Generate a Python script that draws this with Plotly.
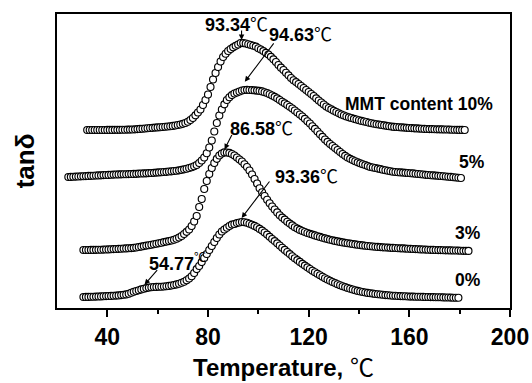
import plotly.graph_objects as go

# Temperature sampling step (degC) and start temperature of each scan
T_STEP = 1.0
T0_10, T0_5, T0_3, T0_0 = 32.0, 24.5, 30.5, 30.5

# tan(delta) traces, vertically offset, arbitrary units
tan_10 = [
    178.0, 178.0, 178.0, 178.0, 178.0, 178.0, 178.0, 178.0, 178.1, 178.1,
    178.1, 178.2, 178.2, 178.2, 178.3, 178.3, 178.4, 178.4, 178.5, 178.7,
    178.9, 179.1, 179.3, 179.5, 179.8, 180.0, 180.2, 180.4, 180.6, 180.8,
    181.0, 181.3, 181.5, 181.8, 182.1, 182.5, 183.0, 183.5, 184.2, 185.0,
    186.3, 188.0, 190.0, 192.7, 195.5, 198.5, 203.0, 208.0, 213.5, 221.0,
    228.5, 235.0, 241.0, 246.5, 251.0, 254.3, 257.0, 259.0, 260.7, 262.2,
    263.5, 265.0, 264.9, 264.5, 263.8, 263.0, 262.3, 261.4, 259.8, 258.5,
    256.9, 255.2, 253.5, 251.2, 248.7, 246.0, 243.0, 240.3, 238.0, 235.3,
    232.7, 230.0, 227.8, 225.9, 224.0, 222.0, 220.0, 218.0, 216.0, 214.0,
    212.0, 209.7, 207.5, 205.5, 203.5, 201.5, 200.0, 198.7, 197.3, 196.0,
    194.7, 193.5, 192.5, 191.5, 190.7, 190.0, 189.2, 188.5, 187.8, 187.1,
    186.5, 186.0, 185.3, 184.8, 184.3, 183.8, 183.4, 183.0, 182.6, 182.2,
    181.8, 181.4, 181.1, 181.0, 180.8, 180.6, 180.4, 180.2, 180.0, 179.9,
    179.7, 179.6, 179.4, 179.3, 179.1, 179.0, 178.9, 178.9, 178.8, 178.7,
    178.7, 178.6, 178.5, 178.5, 178.4, 178.3, 178.3, 178.2, 178.1, 178.1,
    178.0,
]
tan_5 = [
    131.0, 131.1, 131.3, 131.4, 131.5, 131.7, 131.8, 131.9, 132.1, 132.2,
    132.3, 132.5, 132.6, 132.7, 132.9, 133.0, 133.1, 133.3, 133.4, 133.5,
    133.6, 133.7, 133.8, 133.8, 133.9, 134.0, 134.1, 134.2, 134.4, 134.5,
    134.6, 134.7, 134.9, 135.0, 135.2, 135.4, 135.6, 135.8, 136.0, 136.2,
    136.5, 136.7, 137.0, 137.3, 137.7, 138.2, 138.7, 139.3, 140.0, 140.8,
    141.8, 143.0, 145.0, 147.5, 150.5, 154.8, 160.5, 167.5, 176.5, 185.0,
    192.5, 198.5, 203.7, 208.0, 210.8, 212.9, 214.5, 215.5, 216.5, 217.5,
    218.0, 218.2, 218.0, 217.9, 217.7, 217.4, 217.1, 216.6, 215.8, 214.9,
    213.8, 212.5, 211.2, 209.7, 208.0, 206.3, 204.7, 203.0, 201.3, 199.5,
    197.5, 195.5, 193.5, 191.5, 189.2, 186.8, 184.5, 181.8, 179.2, 176.5,
    173.8, 171.2, 168.5, 166.2, 164.0, 162.0, 160.0, 158.0, 156.0, 154.0,
    152.2, 150.5, 149.2, 147.9, 146.8, 145.7, 144.7, 143.8, 142.9, 141.9,
    141.0, 140.5, 140.0, 139.4, 138.9, 138.3, 137.8, 137.3, 136.8, 136.3,
    136.0, 135.8, 135.6, 135.4, 135.2, 135.0, 134.8, 134.6, 134.3, 134.0,
    133.8, 133.5, 133.2, 133.0, 132.8, 132.6, 132.4, 132.2, 132.0, 131.8,
    131.5, 131.3, 131.1, 130.8, 130.5, 130.3, 130.0,
]
tan_3 = [
    58.0, 58.0, 58.0, 58.1, 58.1, 58.2, 58.3, 58.3, 58.4, 58.5,
    58.6, 58.8, 58.9, 59.0, 59.2, 59.3, 59.5, 59.6, 59.8, 59.9,
    60.2, 60.5, 61.0, 61.4, 61.9, 62.4, 62.8, 63.3, 63.8, 64.3,
    64.8, 65.3, 65.9, 66.4, 66.9, 67.5, 68.3, 69.3, 70.5, 72.0,
    74.0, 76.2, 78.5, 82.0, 86.5, 92.0, 101.0, 109.0, 119.0, 127.0,
    134.0, 140.0, 145.0, 149.2, 152.5, 154.5, 155.6, 155.5, 155.1, 154.0,
    152.5, 150.5, 148.5, 146.5, 143.8, 141.0, 137.5, 133.5, 129.0, 124.5,
    119.8, 115.8, 112.0, 108.3, 104.8, 101.5, 98.5, 95.6, 92.8, 90.4,
    88.4, 86.3, 84.4, 82.6, 80.8, 79.4, 78.1, 77.0, 76.0, 75.0,
    74.2, 73.4, 72.6, 71.8, 71.1, 70.3, 69.6, 68.9, 68.3, 67.7,
    67.1, 66.6, 66.1, 65.6, 65.2, 64.8, 64.4, 64.0, 63.6, 63.3,
    62.9, 62.6, 62.3, 62.0, 61.8, 61.5, 61.3, 61.1, 60.9, 60.7,
    60.5, 60.4, 60.2, 60.1, 60.0, 59.8, 59.7, 59.6, 59.4, 59.3,
    59.2, 59.0, 58.9, 58.8, 58.6, 58.5, 58.4, 58.3, 58.2, 58.1,
    58.0, 57.9, 57.9, 57.8, 57.7, 57.7, 57.6, 57.5, 57.5, 57.4,
    57.3, 57.2, 57.2, 57.1,
]
tan_0 = [
    11.0, 11.1, 11.1, 11.2, 11.3, 11.4, 11.5, 11.6, 11.7, 11.9,
    12.0, 12.1, 12.3, 12.4, 12.6, 12.9, 13.2, 13.6, 14.2, 15.2,
    16.2, 17.0, 17.8, 18.6, 19.3, 19.9, 20.4, 20.8, 21.0, 21.1,
    21.2, 21.3, 21.5, 21.8, 22.1, 22.5, 23.0, 23.6, 24.3, 25.2,
    26.3, 27.8, 29.5, 31.8, 35.0, 38.9, 42.0, 45.9, 50.0, 54.0,
    58.0, 62.0, 66.0, 70.0, 73.5, 76.5, 78.5, 80.3, 82.0, 83.4,
    84.0, 84.9, 85.5, 86.0, 85.8, 85.3, 84.3, 83.3, 82.1, 80.8,
    79.1, 77.4, 75.5, 73.4, 71.2, 69.0, 66.9, 64.7, 62.5, 60.3,
    58.1, 56.0, 53.9, 51.8, 49.8, 47.9, 46.1, 44.2, 42.4, 40.7,
    39.0, 37.3, 35.7, 34.2, 32.7, 31.3, 29.8, 28.5, 27.2, 26.0,
    24.9, 23.8, 22.8, 21.8, 20.9, 20.0, 19.2, 18.5, 17.8, 17.1,
    16.5, 16.0, 15.5, 15.1, 14.7, 14.4, 14.0, 13.7, 13.5, 13.2,
    12.9, 12.7, 12.5, 12.3, 12.2, 12.0, 11.9, 11.8, 11.7, 11.5,
    11.4, 11.4, 11.3, 11.2, 11.2, 11.1, 11.0, 11.0, 10.9, 10.9,
    10.8, 10.7, 10.7, 10.6, 10.5, 10.5, 10.4, 10.3, 10.3, 10.2,
]

# Peak / transition temperatures quoted on the chart
peak_10, peak_5, peak_3, peak_0 = 93.34, 94.63, 86.58, 93.36
shoulder_0 = 54.77

# Curve labels
content_labels = ["MMT content 10%", "5%", "3%", "0%"]
x_ticks = [40, 80, 120, 160, 200]


def temps(start, vals):
    return [start + T_STEP * i for i in range(len(vals))]


def value_at(start, vals, t):
    i = int(round((t - start) / T_STEP))
    i = max(0, min(len(vals) - 1, i))
    return vals[i]


FONT = "Liberation Sans"
DEG = '<span style="font-family:Noto Sans CJK SC;font-weight:400">℃</span>'
DEG_SMALL = '<span style="font-family:Noto Sans CJK SC;font-weight:400;font-size:12px">℃</span>'

fig = go.Figure()
for start, vals in [(T0_10, tan_10), (T0_5, tan_5), (T0_3, tan_3), (T0_0, tan_0)]:
    fig.add_trace(go.Scatter(
        x=temps(start, vals), y=vals, mode="markers",
        marker=dict(symbol="circle", size=7, color="white",
                    line=dict(color="black", width=1.15)),
        showlegend=False, hoverinfo="skip",
    ))

annotations = []

# Arrows pointing at the peaks (head at quoted temperature)
arrow_specs = [
    (peak_10, max(tan_10) + 3, 0, -11),
    (peak_5, max(tan_5) + 8, 30, -40),
    (peak_3, max(tan_3) + 3, 8, -16),
    (peak_0, max(tan_0) + 4, 29, -38),
    (shoulder_0, value_at(T0_0, tan_0, shoulder_0) + 4, 14, -16),
]
for hx, hy, ax, ay in arrow_specs:
    annotations.append(dict(
        x=hx, y=hy, xref="x", yref="y", ax=ax, ay=ay, text="",
        showarrow=True, arrowhead=2, arrowsize=1, arrowwidth=1.1,
        arrowcolor="black", standoff=0, startstandoff=0,
    ))

# Temperature labels
label_specs = [
    (peak_10, 78.0, 285, DEG),
    (peak_5, 103.5, 275, DEG),
    (peak_3, 88.0, 181, DEG),
    (peak_0, 105.9, 133, DEG),
    (shoulder_0, 55.8, 47, "<sup>" + DEG_SMALL + "</sup>"),
]
for val, lx, ly, unit in label_specs:
    annotations.append(dict(
        x=lx, y=ly, xref="x", yref="y", xanchor="left", yanchor="middle",
        text=f"<b>{val:.2f}</b>{unit}", showarrow=False,
        font=dict(family=FONT, size=18, color="black"),
    ))

# Content labels
for text, lx, ly in zip(content_labels, [133.7, 179.0, 177.5, 177.5], [204, 146, 75, 28]):
    annotations.append(dict(
        x=lx, y=ly, xref="x", yref="y", xanchor="left", yanchor="middle",
        text=f"<b>{text}</b>", showarrow=False,
        font=dict(family=FONT, size=17.5, color="black"),
    ))

# Axis titles
annotations.append(dict(
    x=0.5, y=-0.197, xref="paper", yref="paper", xanchor="center", yanchor="middle",
    text="<b>Temperature,</b> " + DEG, showarrow=False,
    font=dict(family=FONT, size=24, color="black"),
))
annotations.append(dict(
    x=-0.07, y=0.5, xref="paper", yref="paper", xanchor="center", yanchor="middle",
    text="<b>tanδ</b>", textangle=-90, showarrow=False,
    font=dict(family=FONT, size=26, color="black"),
))

fig.update_layout(
    width=532, height=383,
    margin=dict(l=57, r=22, t=14, b=75, autoexpand=False),
    paper_bgcolor="white", plot_bgcolor="white",
    annotations=annotations,
    xaxis=dict(
        range=[20, 200], tickvals=x_ticks, ticks="outside", ticklen=7, tickwidth=1.5,
        tickcolor="black", showline=True, linewidth=2, linecolor="black", mirror=True,
        showgrid=False, zeroline=False, automargin=False,
        tickfont=dict(family=FONT, size=23, color="black", weight="bold"),
        minor=dict(tickvals=[60, 100, 140, 180], ticks="outside", ticklen=4,
                   tickwidth=1.5, tickcolor="black", showgrid=False),
    ),
    yaxis=dict(
        range=[0, 294], showticklabels=False, ticks="", showline=True, linewidth=2,
        linecolor="black", mirror=True, showgrid=False, zeroline=False, automargin=False,
    ),
)

fig.write_html("out.html")
